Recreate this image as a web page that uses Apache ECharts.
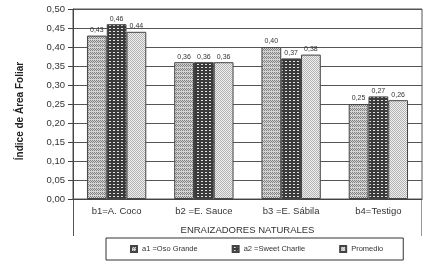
<!DOCTYPE html>
<html><head><meta charset="utf-8">
<script src="https://cdn.jsdelivr.net/npm/echarts@6/dist/echarts.min.js"></script>
<style>html,body{margin:0;padding:0;background:#fff}#c{width:427px;height:273px}</style>
</head><body><div id="c"></div>
<script>
var categories = ['b1=A. Coco', 'b2 =E. Sauce', 'b3 =E. Sábila', 'b4=Testigo'];
var seriesNames = ['a1 =Oso Grande', 'a2 =Sweet Charlie', 'Promedio'];
var a1Values = [0.43, 0.36, 0.40, 0.25];
var a2Values = [0.46, 0.36, 0.37, 0.27];
var promValues = [0.44, 0.36, 0.38, 0.26];
var yTicks = [0, 0.05, 0.10, 0.15, 0.20, 0.25, 0.30, 0.35, 0.40, 0.45, 0.50];

function makePattern(kind) {
  var c = document.createElement('canvas');
  var ctx = c.getContext('2d');
  if (kind === 1) {
    c.width = 4; c.height = 4;
    ctx.fillStyle = '#d4d4d4'; ctx.fillRect(0,0,4,4);
    ctx.fillStyle = '#808080';
    ctx.fillRect(0,0,1,1); ctx.fillRect(1,1,1,1); ctx.fillRect(2,0,1,1); ctx.fillRect(3,1,1,1);
    ctx.fillRect(0,2,1,1); ctx.fillRect(2,2,1,1);
  } else if (kind === 2) {
    c.width = 4; c.height = 3;
    ctx.fillStyle = '#3a3a3a'; ctx.fillRect(0,0,4,3);
    ctx.fillStyle = '#e0e0e0'; ctx.fillRect(1,1,2,1);
  } else {
    c.width = 2; c.height = 2;
    ctx.fillStyle = '#eeeeee'; ctx.fillRect(0,0,2,2);
    ctx.fillStyle = '#b4b4b4'; ctx.fillRect(0,0,1,1); ctx.fillRect(1,1,1,1);
  }
  return {image: c, repeat: 'repeat'};
}
var patterns = [makePattern(1), makePattern(2), makePattern(3)];
var dataSets = [a1Values, a2Values, promValues];

function fmt(v) { return v.toFixed(2).replace('.', ','); }

var chart = echarts.init(document.getElementById('c'));
var fontFam = '"Liberation Sans", Arial, sans-serif';
var option = {
  animation: false,
  textStyle: {fontFamily: fontFam},
  grid: {left: 73, right: 5, top: 9, bottom: 74, show: true, borderColor: '#555', borderWidth: 1},
  legend: {
    data: seriesNames, left: 106, top: 238, width: 286,
    itemWidth: 6, itemHeight: 6, itemGap: 34,
    padding: [7, 20, 7, 24],
    borderColor: '#333', borderWidth: 1,
    textStyle: {fontSize: 7.5, color: '#333', fontFamily: fontFam},
    icon: 'rect'
  },
  xAxis: {
    type: 'category', data: categories,
    axisLine: {lineStyle: {color: '#444'}},
    axisTick: {length: 19, lineStyle: {color: '#555'}},
    axisLabel: {fontSize: 9.5, color: '#333', margin: 7},
    name: 'ENRAIZADORES NATURALES', nameLocation: 'middle', nameGap: 26,
    nameTextStyle: {fontSize: 9.5, color: '#333'}
  },
  yAxis: {
    type: 'value', min: 0, max: 0.5, interval: 0.05,
    axisLine: {show: true, lineStyle: {color: '#444'}},
    axisTick: {show: true, length: 5, lineStyle: {color: '#444'}},
    axisLabel: {fontSize: 9.5, color: '#333', formatter: function (v) { return fmt(v); }},
    splitLine: {lineStyle: {color: '#555', width: 1}},
    name: 'Índice de Área Foliar', nameLocation: 'middle', nameGap: 48,
    nameTextStyle: {fontSize: 10, fontWeight: 'bold', color: '#222', padding: [0, 14, 0, 0]}
  },
  series: seriesNames.map(function (n, i) {
    return {
      name: n, type: 'bar', data: dataSets[i],
      barGap: '0%', barCategoryGap: '32%',
      itemStyle: {color: patterns[i], borderColor: '#444', borderWidth: 1},
      label: {show: true, position: 'top', distance: 2, fontSize: 7, color: '#333',
        formatter: function (p) { return fmt(p.value); }}
    };
  })
};
chart.setOption(option);

function drawExtras() {
  var g = chart.getModel().getComponent('grid').coordinateSystem.getRect();
  var y0 = g.y + g.height;
  chart.setOption({
    graphic: [
      {type: 'line', shape: {x1: g.x + 0.5, y1: y0, x2: g.x + 0.5, y2: y0 + 37}, style: {stroke: '#555', lineWidth: 1}},
      {type: 'line', shape: {x1: g.x + g.width - 0.5, y1: y0, x2: g.x + g.width - 0.5, y2: y0 + 37}, style: {stroke: '#999', lineWidth: 1}}
    ]
  });
}
drawExtras();
</script>
</body></html>
